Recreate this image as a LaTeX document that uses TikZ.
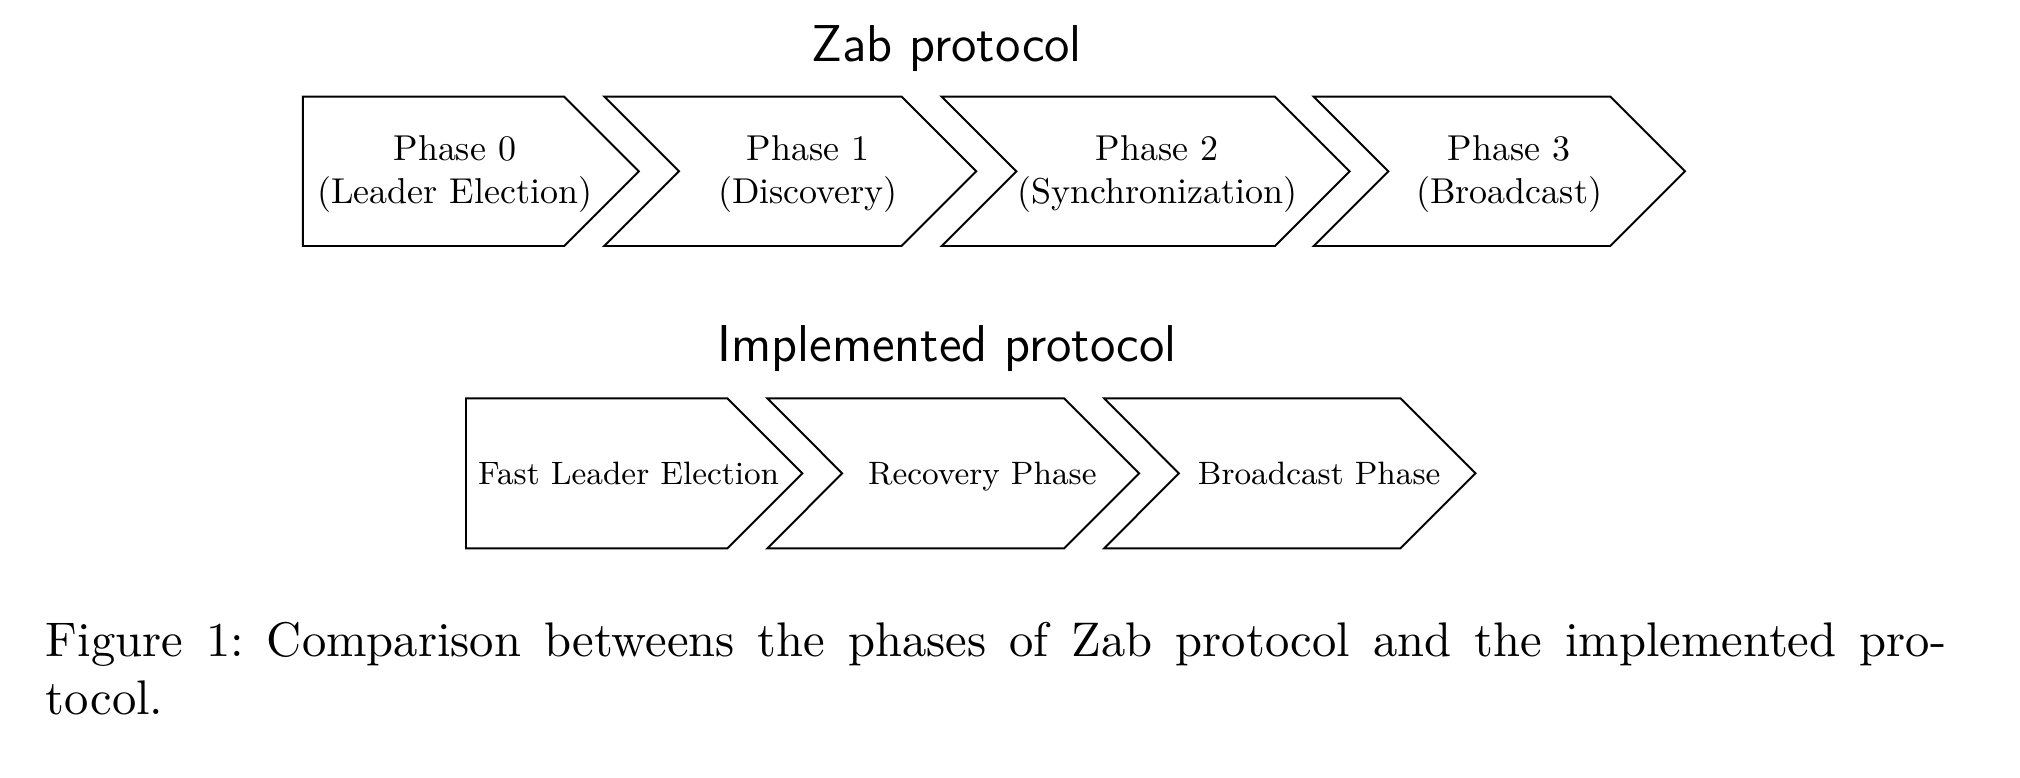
\documentclass[tikz,border=0pt]{standalone}
\usetikzlibrary{positioning}
\tikzset{
  chev/.style={draw=black,line width=0.4pt,line join=miter},
  phase/.style={font=\normalsize,align=center,scale=0.74,inner sep=0pt},
  impl/.style={font=\small,scale=0.74,inner sep=0pt},
  title/.style={font=\Large\sffamily,scale=0.74,inner sep=0pt},
}
\begin{document}
\begin{tikzpicture}
  \useasboundingbox (0,0) rectangle (14.608,5.626);
  % Zab protocol
  \node[title,anchor=base] (zab) at (6.846,5.180) {Zab protocol};
  \foreach \l/\s/\n/\tx/\t [count=\i from 0] in
      {2.19/4.08/0/3.289/Leader Election,4.37/6.52/0.54/5.842/Discovery,
       6.81/9.22/0.54/8.367/Synchronization,9.50/11.645/0.54/10.914/Broadcast}{
    \draw[chev] (\l,4.927) -- (\s,4.927) -- (\s+0.54,4.387) -- (\s,3.847)
      -- (\l,3.847) -- (\l+\n,4.387) -- cycle;
    \node[phase] (z\i) at (\tx,4.370) {Phase \i\\(\t)};
  }
  % implemented protocol
  \node[title,anchor=base] (impl) at (6.850,3.011) {Implemented protocol};
  \foreach \l/\s/\n/\tx/\t [count=\i] in
      {3.37/5.26/0/4.546/Fast Leader Election,5.55/7.695/0.54/7.104/Recovery Phase,
       7.985/10.128/0.54/9.540/Broadcast Phase}{
    \draw[chev] (\l,2.745) -- (\s,2.745) -- (\s+0.542,2.203) -- (\s,1.661)
      -- (\l,1.661) -- (\l+\n,2.203) -- cycle;
    \node[impl,anchor=base] (m\i) at (\tx,2.119) {\t};
  }
  % caption
  \node[anchor=north west,text width=391pt,align=justify,inner sep=0pt,font=\frenchspacing] (cap) at (0.325,1.134)
    {Figure 1: Comparison betweens the phases of Zab protocol and the implemented pro-\linebreak tocol.};
\end{tikzpicture}
\end{document}
